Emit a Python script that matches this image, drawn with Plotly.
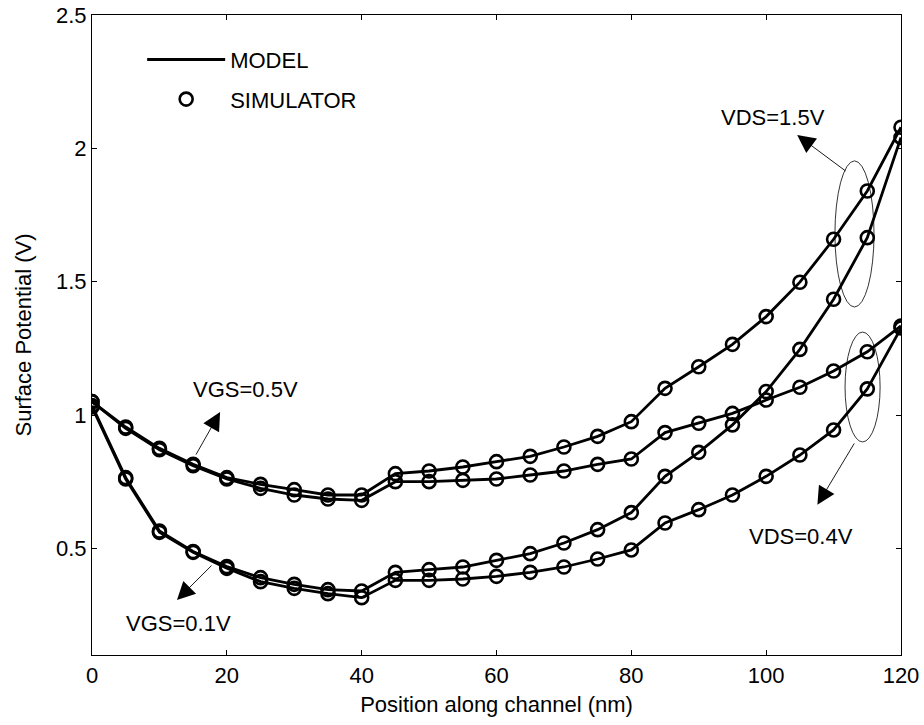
import plotly.graph_objects as go

# Position along channel (nm)
x_nm = [0, 5, 10, 15, 20, 25, 30, 35, 40, 45, 50, 55, 60, 65, 70, 75, 80,
        85, 90, 95, 100, 105, 110, 115, 120]

# Surface potential (V)
vgs05_vds15 = [1.05, 0.955, 0.875, 0.815, 0.765, 0.74, 0.72, 0.70, 0.70,
               0.78, 0.79, 0.805, 0.825, 0.845, 0.88, 0.92, 0.975,
               1.10, 1.181, 1.265, 1.369, 1.498, 1.659, 1.84, 2.079]
vgs05_vds04 = [1.05, 0.95, 0.87, 0.81, 0.76, 0.725, 0.70, 0.685, 0.68,
               0.75, 0.75, 0.755, 0.76, 0.775, 0.79, 0.815, 0.835,
               0.934, 0.969, 1.006, 1.056, 1.104, 1.165, 1.237, 1.334]
vgs01_vds15 = [1.035, 0.765, 0.565, 0.488, 0.432, 0.39, 0.365, 0.345, 0.34,
               0.41, 0.42, 0.43, 0.455, 0.48, 0.52, 0.57, 0.634,
               0.77, 0.86, 0.963, 1.088, 1.246, 1.434, 1.665, 2.041]
vgs01_vds04 = [1.03, 0.76, 0.56, 0.485, 0.425, 0.375, 0.35, 0.33, 0.315,
               0.38, 0.38, 0.385, 0.395, 0.41, 0.43, 0.46, 0.494,
               0.595, 0.645, 0.70, 0.77, 0.85, 0.944, 1.098, 1.326]

curves = [vgs05_vds15, vgs05_vds04, vgs01_vds15, vgs01_vds04]

x_ticks = [0, 20, 40, 60, 80, 100, 120]
y_ticks = [0.5, 1, 1.5, 2, 2.5]
y_tick_text = ["0.5", "1", "1.5", "2", "2.5"]

FONT = "Liberation Sans, Arial, sans-serif"
FS = 22

fig = go.Figure()

for i, c in enumerate(curves):
    fig.add_trace(go.Scatter(
        x=x_nm, y=c, mode="lines",
        line=dict(color="black", width=2.8),
        name="MODEL", showlegend=(i == 0), legendgroup="model"))
for i, c in enumerate(curves):
    fig.add_trace(go.Scatter(
        x=x_nm, y=c, mode="markers",
        marker=dict(symbol="circle-open", size=13, color="black",
                    line=dict(width=2.6, color="black")),
        name="SIMULATOR", showlegend=(i == 0), legendgroup="sim"))

# text labels
labels = [
    ("VGS=0.5V", 22.7, 1.094),
    ("VGS=0.1V", 12.8, 0.22),
    ("VDS=1.5V", 101.0, 2.114),
    ("VDS=0.4V", 105.2, 0.543),
]
for t, lx, ly in labels:
    fig.add_annotation(x=lx, y=ly, text=t, showarrow=False,
                       font=dict(family=FONT, size=FS, color="black"))

# arrows: (head x, head y, tail x, tail y)
arrows = [
    (19.0, 1.011, 15.3, 0.846),
    (12.6, 0.306, 17.95, 0.441),
    (104.6, 2.05, 112.0, 1.911),
    (107.6, 0.663, 113.2, 0.899),
]
for hx, hy, tx, ty in arrows:
    fig.add_annotation(x=hx, y=hy, ax=tx, ay=ty, axref="x", ayref="y",
                       xref="x", yref="y", text="", showarrow=True,
                       arrowhead=2, arrowsize=4, arrowwidth=0.9,
                       arrowcolor="black")

# ellipses grouping the VDS curves
ellipses = [
    (110.2, 116.0, 1.405, 1.953),
    (111.7, 116.9, 0.899, 1.311),
]
for x0, x1, y0, y1 in ellipses:
    fig.add_shape(type="circle", xref="x", yref="y", x0=x0, x1=x1, y0=y0,
                  y1=y1, line=dict(color="black", width=0.8))

axis_common = dict(
    showline=True, linecolor="black", linewidth=1.2, mirror="allticks",
    ticks="inside", ticklen=5, tickcolor="black", tickwidth=1,
    showgrid=False, zeroline=False, automargin=False,
    tickfont=dict(family=FONT, size=FS, color="black"),
)

fig.update_xaxes(range=[0, 120], tickvals=x_ticks,
                 title=dict(text="Position along channel (nm)",
                            font=dict(family=FONT, size=FS, color="black"),
                            standoff=10),
                 **axis_common)
fig.update_yaxes(range=[0.1, 2.5], tickvals=y_ticks, ticktext=y_tick_text,
                 title=dict(text="Surface Potential (V)",
                            font=dict(family=FONT, size=FS, color="black"),
                            standoff=18),
                 **axis_common)

fig.update_layout(
    width=924, height=725,
    margin=dict(l=92, r=23, t=15, b=70),
    plot_bgcolor="white", paper_bgcolor="white",
    font=dict(family=FONT, size=FS, color="black"),
    legend=dict(x=0.062, y=0.963, xanchor="left", yanchor="top",
                bgcolor="rgba(0,0,0,0)", tracegroupgap=8, itemwidth=78,
                font=dict(family=FONT, size=FS, color="black")),
)

fig.write_html("out.html")
